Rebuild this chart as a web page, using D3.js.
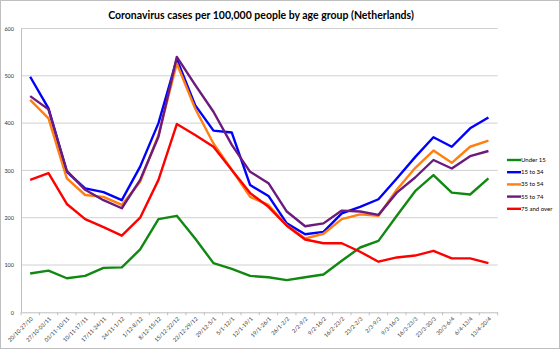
<!DOCTYPE html>
<html><head><meta charset="utf-8">
<script src="https://cdn.jsdelivr.net/npm/d3@7"></script>
<style>body{margin:0;background:#fff}svg{display:block}</style>
</head><body>
<script>
const categories = ["20/10-27/10","27/10-03/11","03/11-10/11","10/11-17/11","17/11-24/11","24/11-1/12","1/12-8/12","8/12-15/12","15/12-22/12","22/12-29/12","29/12-5/1","5/1-12/1","12/1-19/1","19/1-26/1","26/1-2/2","2/2-9/2","9/2-16/2","16/2-23/2","23/2-2/3","2/3-9/3","9/3-16/3","16/3-23/3","23/3-30/3","30/3-6/4","6/4-13/4","13/4-20/4"];
const under15 = [82,88,72,77,94,95,133,197,204,156,104,92,77,74,68,74,80,109,137,151,204,256,290,253,249,283];
const age15to34 = [498,431,297,262,254,237,308,400,535,438,384,380,269,246,188,165,170,209,223,239,283,328,370,350,389,412];
const age35to54 = [449,410,283,248,244,227,276,375,526,431,357,301,244,227,184,156,166,197,207,204,259,305,342,316,350,363];
const age55to74 = [457,429,299,259,237,220,280,371,540,481,424,354,297,273,213,182,188,215,213,206,253,285,322,304,330,341];
const age75plus = [280,294,229,197,180,162,200,280,398,375,350,301,252,223,183,154,146,146,128,107,116,120,130,114,114,104];
const seriesNames = ["Under 15","15 to 34","35 to 54","55 to 74","75 and over"];
const seriesColors = ["#118811","#0000ff","#ff7f11","#6b1a7d","#ff0000"];
const yTicks = [0,100,200,300,400,500,600];
const title = "Coronavirus cases per 100,000 people by age group (Netherlands)";

const series = [under15, age15to34, age35to54, age55to74, age75plus];
const W = 560, H = 349;
const svg = d3.select("body").append("svg").attr("width", W).attr("height", H);
svg.append("rect").attr("x",0.5).attr("y",0.5).attr("width",W-1).attr("height",H-1)
  .attr("fill","#fff").attr("stroke","#bfbfbf");

const font = "Lato, 'Open Sans', sans-serif";
const x = d3.scaleBand().domain(categories).range([21, 497.6]);
const y = d3.scaleLinear().domain([0,600]).range([312.3, 28.5]);

svg.append("text").attr("x", 261).attr("y", 19).attr("text-anchor","middle")
  .attr("font-family", font).attr("font-weight","bold").attr("font-size", 10.5)
  .attr("fill","#000").text(title);

// gridlines
svg.append("g").selectAll("line").data(yTicks.filter(d=>d>0)).join("line")
  .attr("x1",21).attr("x2",497.6).attr("y1",d=>y(d)).attr("y2",d=>y(d))
  .attr("stroke","#d0d0d0").attr("stroke-width",1);

// y axis
const yAxis = svg.append("g").attr("transform","translate(21,0)")
  .call(d3.axisLeft(y).tickValues(yTicks).tickSize(0).tickPadding(7));
yAxis.select(".domain").attr("stroke","#bfbfbf");
yAxis.selectAll("text").attr("font-family",font).attr("font-size",5.5).attr("fill","#333");

// x axis
const xAxis = svg.append("g").attr("transform","translate(0,312.3)")
  .call(d3.axisBottom(x).tickSize(0).tickPadding(4));
xAxis.select(".domain").attr("stroke","#bfbfbf");
xAxis.selectAll(".tick line").remove();
// category boundary tick marks
xAxis.append("g").selectAll("line").data(d3.range(categories.length+1)).join("line")
  .attr("x1",i=>21 + i*x.step()).attr("x2",i=>21 + i*x.step())
  .attr("y1",0).attr("y2",3).attr("stroke","#bfbfbf");
xAxis.selectAll(".tick text").attr("font-family",font).attr("font-size",5.5).attr("fill","#333")
  .attr("text-anchor","end").attr("dy","0").attr("y",0)
  .attr("transform","translate(3,7) rotate(-45)");

// lines
const line = d3.line().x((d,i)=>x(categories[i]) + x.bandwidth()/2).y(d=>y(d));
series.forEach((s,k)=>{
  svg.append("path").datum(s).attr("d",line).attr("fill","none")
    .attr("stroke",seriesColors[k]).attr("stroke-width",2.4).attr("stroke-linejoin","round");
});

// legend
const lg = svg.append("g");
seriesNames.forEach((n,k)=>{
  const ly = 160 + k*12.2;
  lg.append("line").attr("x1",507).attr("x2",521).attr("y1",ly).attr("y2",ly)
    .attr("stroke",seriesColors[k]).attr("stroke-width",2.4);
  lg.append("text").attr("x",521).attr("y",ly+2).attr("font-family",font)
    .attr("font-size",6).attr("fill","#000").text(n);
});
</script>
</body></html>
